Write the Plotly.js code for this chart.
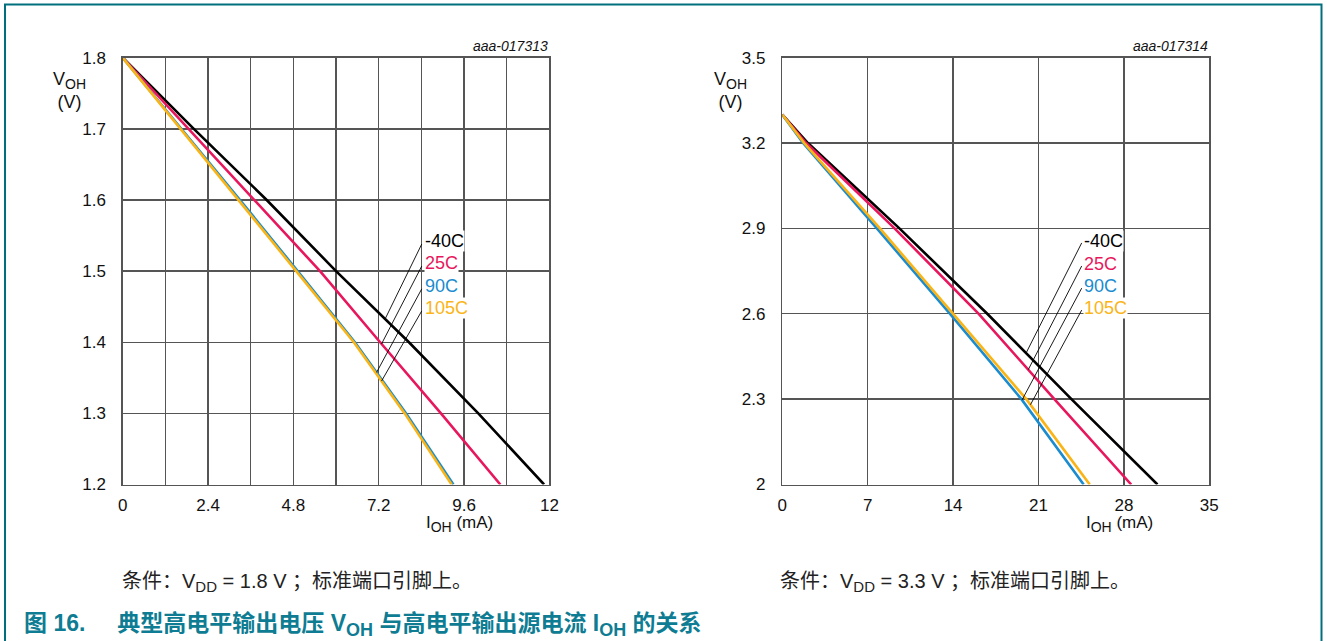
<!DOCTYPE html>
<html>
<head>
<meta charset="utf-8">
<script src="https://cdn.plot.ly/plotly-3.0.1.min.js"></script>
<style>
  html, body { margin: 0; padding: 0; background: #fff; }
  #chart { width: 1327px; height: 641px; }
</style>
</head>
<body>
<div id="chart"></div>
<script>
// ---- VDD = 1.8 V : output high voltage (V) vs. source current (mA) ----
const vddLowVoltage = [1.8, 1.7, 1.6, 1.5, 1.4, 1.3, 1.2];
const vddLowCurrentM40 = [0, 2.0, 4.05, 6.0, 8.05, 10.0, 11.85];
const vddLowCurrent25 = [0, 1.85, 3.68, 5.55, 7.24, 8.95, 10.62];
const vddLowCurrent90 = [0, 1.65, 3.3, 4.92, 6.53, 7.97, 9.3];
const vddLowCurrent105 = [0, 1.63, 3.27, 4.88, 6.5, 7.93, 9.25];

// ---- VDD = 3.3 V ----
const vddHighVoltage = [3.3, 3.2, 2.9, 2.6, 2.3, 2.0];
const vddHighCurrentM40 = [0, 2.1, 9.6, 16.8, 23.7, 30.75];
const vddHighCurrent25 = [0, 1.95, 9.2, 16.1, 22.3, 28.6];
const vddHighCurrent90 = [0, 1.7, 7.75, 13.75, 19.6, 24.7];
const vddHighCurrent105 = [0, 1.8, 8.0, 14.0, 20.0, 25.2];

const seriesNames = ['-40C', '25C', '90C', '105C'];

// tick values and labels
const lowXTicks = [0, 1.2, 2.4, 3.6, 4.8, 6, 7.2, 8.4, 9.6, 10.8, 12];
const lowXTickText = ['0', '', '2.4', '', '4.8', '', '7.2', '', '9.6', '', '12'];
const lowYTicks = [1.2, 1.3, 1.4, 1.5, 1.6, 1.7, 1.8];
const lowYTickText = ['1.2', '1.3', '1.4', '1.5', '1.6', '1.7', '1.8'];
const highXTicks = [0, 7, 14, 21, 28, 35];
const highXTickText = ['0', '7', '14', '21', '28', '35'];
const highYTicks = [2, 2.3, 2.6, 2.9, 3.2, 3.5];
const highYTickText = ['2', '2.3', '2.6', '2.9', '3.2', '3.5'];

// current at which each series' leader line touches its curve
const lowLeaderCurrent = [7.38, 7.28, 7.14, 7.28];
const highLeaderCurrent = [19.98, 20.16, 19.65, 20.34];

// ---- styling ----
const colors = ['#000000', '#e8175d', '#1a8ccf', '#fbb416'];
const W = 1327, H = 641;
const px = x => x / W;
const py = y => 1 - y / H;
const FONT = 'Arial, "Liberation Sans", sans-serif';
const CJK = 'Arial, "Liberation Sans", "Noto Sans CJK SC", sans-serif';
const gridColor = '#555555';

const lowCurrents = [vddLowCurrentM40, vddLowCurrent25, vddLowCurrent90, vddLowCurrent105];
const highCurrents = [vddHighCurrentM40, vddHighCurrent25, vddHighCurrent90, vddHighCurrent105];

function interp(xs, ys, x) {
  for (let i = 0; i < xs.length - 1; i++) {
    if (x >= xs[i] && x <= xs[i + 1]) {
      const t = (x - xs[i]) / (xs[i + 1] - xs[i]);
      return ys[i] + t * (ys[i + 1] - ys[i]);
    }
  }
  return ys[ys.length - 1];
}

// subscript with an explicit size
const sub = (s, size) => `<sub><span style="font-size:${size}px">${s}</span></sub>`;

const traces = [];
seriesNames.forEach((name, i) => {
  traces.push({
    x: lowCurrents[i], y: vddLowVoltage, xaxis: 'x', yaxis: 'y',
    type: 'scatter', mode: 'lines', name: name,
    line: { color: colors[i], width: 2.6 }, hoverinfo: 'skip'
  });
  traces.push({
    x: highCurrents[i], y: vddHighVoltage, xaxis: 'x2', yaxis: 'y2',
    type: 'scatter', mode: 'lines', name: name,
    line: { color: colors[i], width: 2.6 }, hoverinfo: 'skip'
  });
});

function axis(domain, range, vals, text, standoff) {
  return {
    domain: domain, range: range, tickmode: 'array', tickvals: vals, ticktext: text,
    showgrid: true, gridcolor: gridColor, gridwidth: 1.4,
    showline: true, linecolor: gridColor, linewidth: 1.4, mirror: true,
    zeroline: false, ticks: '', ticklabelstandoff: standoff,
    tickfont: { family: FONT, size: 17, color: '#111' }, fixedrange: true
  };
}

const lowX = [122.7, 549.4], highX = [782.3, 1209.3], plotY = [57.7, 484.5];

const layout = {
  width: W, height: H, margin: { l: 0, r: 0, t: 0, b: 0 },
  paper_bgcolor: '#fff', plot_bgcolor: '#fff', showlegend: false,
  xaxis: axis([px(lowX[0]), px(lowX[1])], [0, 12], lowXTicks, lowXTickText, 5),
  yaxis: axis([py(plotY[1]), py(plotY[0])], [1.2, 1.8], lowYTicks, lowYTickText, 12),
  xaxis2: Object.assign(axis([px(highX[0]), px(highX[1])], [0, 35], highXTicks, highXTickText, 5), { anchor: 'y2' }),
  yaxis2: Object.assign(axis([py(plotY[1]), py(plotY[0])], [2, 3.5], highYTicks, highYTickText, 12), { anchor: 'x2' }),
  shapes: [], annotations: []
};

// label placement (data coordinates of each chart)
const lowLabelX = 8.47, lowLabelY = [1.542, 1.511, 1.479, 1.448];
const highLabelX = 24.65, highLabelY = [2.857, 2.776, 2.698, 2.621];
const lowLeaderStartX = 8.41, highLeaderStartX = 24.54;

seriesNames.forEach((name, i) => {
  // leader lines from label to curve
  layout.shapes.push({
    type: 'line', xref: 'x', yref: 'y', layer: 'above',
    x0: lowLeaderStartX, y0: lowLabelY[i] - 0.004,
    x1: lowLeaderCurrent[i], y1: interp(lowCurrents[i], vddLowVoltage, lowLeaderCurrent[i]),
    line: { color: '#000', width: 0.9 }
  });
  layout.shapes.push({
    type: 'line', xref: 'x2', yref: 'y2', layer: 'above',
    x0: highLeaderStartX, y0: highLabelY[i] - 0.008,
    x1: highLeaderCurrent[i], y1: interp(highCurrents[i], vddHighVoltage, highLeaderCurrent[i]),
    line: { color: '#000', width: 0.9 }
  });
  layout.annotations.push({
    xref: 'x', yref: 'y', x: lowLabelX, y: lowLabelY[i], text: name,
    xanchor: 'left', yanchor: 'middle', showarrow: false, bgcolor: '#fff', borderpad: 0,
    font: { family: FONT, size: 18, color: colors[i] }
  });
  layout.annotations.push({
    xref: 'x2', yref: 'y2', x: highLabelX, y: highLabelY[i], text: name,
    xanchor: 'left', yanchor: 'middle', showarrow: false, bgcolor: '#fff', borderpad: 0,
    font: { family: FONT, size: 18, color: colors[i] }
  });
});

function note(x, y, text, opts) {
  layout.annotations.push(Object.assign({
    xref: 'paper', yref: 'paper', x: px(x), y: py(y), text: text, showarrow: false,
    xanchor: 'center', yanchor: 'middle', font: { family: FONT, size: 17, color: '#111' }
  }, opts || {}));
}

// figure codes
note(549.5, 46.5, '<i>aaa-017313</i>', { xanchor: 'right', font: { family: FONT, size: 14, color: '#111' } });
note(1209.5, 46.5, '<i>aaa-017314</i>', { xanchor: 'right', font: { family: FONT, size: 14, color: '#111' } });

// axis titles
note(69, 91, 'V' + sub('OH', 14) + '<br>(V)', { align: 'center', font: { family: FONT, size: 18, color: '#111' } });
note(730, 91, 'V' + sub('OH', 14) + '<br>(V)', { align: 'center', font: { family: FONT, size: 18, color: '#111' } });
note(459, 524, 'I' + sub('OH', 14) + ' (mA)');
note(1119, 524, 'I' + sub('OH', 14) + ' (mA)');

// conditions
note(120, 582, '条件：V' + sub('DD', 15) + ' = 1.8 V ；标准端口引脚上。', { xanchor: 'left', font: { family: CJK, size: 20, color: '#222' } });
note(778, 582, '条件：V' + sub('DD', 15) + ' = 3.3 V ；标准端口引脚上。', { xanchor: 'left', font: { family: CJK, size: 20, color: '#222' } });

// figure caption
note(22, 625, '<b>图 16. &nbsp; &nbsp; 典型高电平输出电压 V' + sub('OH', 18) + ' 与高电平输出源电流 I' + sub('OH', 18) + ' 的关系</b>',
  { xanchor: 'left', font: { family: CJK, size: 23, color: '#0e7c92' } });

// frame
layout.shapes.push({
  type: 'path', xref: 'paper', yref: 'paper', layer: 'above',
  path: `M ${px(5)} 0 L ${px(5)} ${py(4.5)} L ${px(1321.5)} ${py(4.5)} L ${px(1321.5)} 0`,
  line: { color: '#00707f', width: 2 }
});

Plotly.newPlot('chart', traces, layout, { staticPlot: true, displayModeBar: false });
</script>
</body>
</html>
